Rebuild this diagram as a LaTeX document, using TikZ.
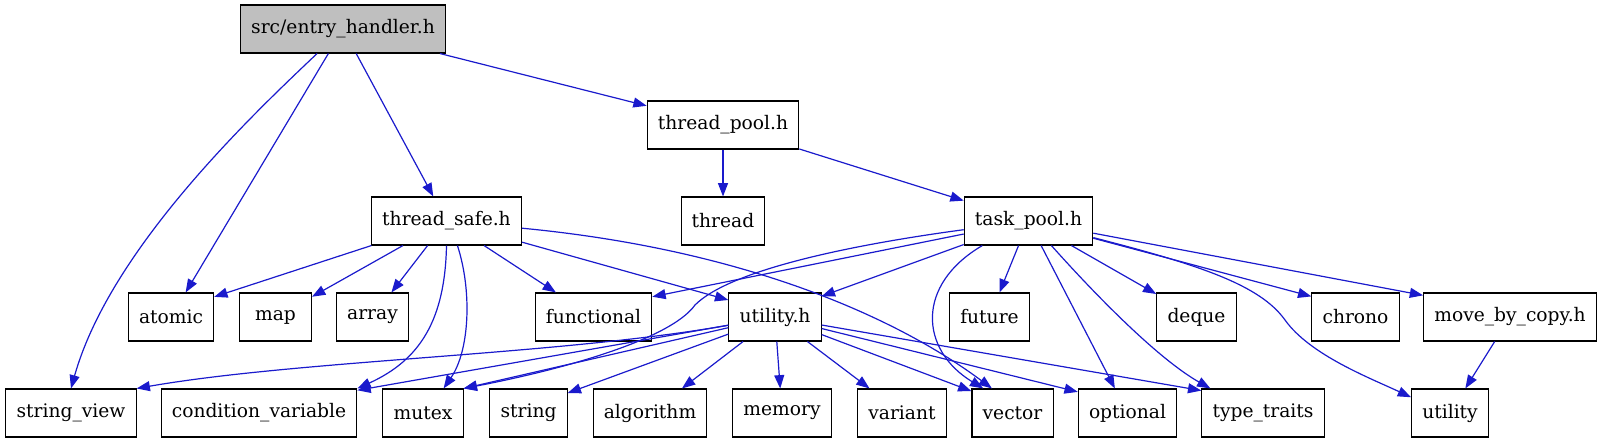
\documentclass[tikz,border=0pt]{standalone}
\usepackage{fontspec}
\setmainfont{DejaVu Serif}
\usetikzlibrary{arrows.meta}
\definecolor{edgeblue}{RGB}{26,26,204}
\definecolor{rootgray}{RGB}{191,191,191}

\begin{document}
\begin{tikzpicture}[x=0.75pt, y=-0.75pt, >={Triangle[length=10pt,width=7.5pt]},
  hdr/.style={draw, line width=0.8pt, minimum height=36pt, minimum width=54pt,
    inner xsep=8pt, font=\fontsize{14}{17}\selectfont},
  inc/.style={->, edgeblue, line width=0.9pt}]
  \useasboundingbox (0,0) rectangle (1602,443);
  % headers
  \node[hdr, fill=rootgray] (entry) at (343,29) {src/entry\_handler.h};
  \node[hdr] (threadpool) at (723,125) {thread\_pool.h};
  \node[hdr] (threadsafe) at (446.5,221) {thread\_safe.h};
  \node[hdr] (thread) at (723,221) {thread};
  \node[hdr] (taskpool) at (1028.5,221) {task\_pool.h};
  \node[hdr] (atomic) at (171,317) {atomic};
  \node[hdr] (map) at (275.5,317) {map};
  \node[hdr] (array) at (372.5,317) {array};
  \node[hdr] (functional) at (593.5,317) {functional};
  \node[hdr] (utilh) at (775,317) {utility.h};
  \node[hdr] (future) at (989.5,317) {future};
  \node[hdr] (deque) at (1196.5,317) {deque};
  \node[hdr] (chrono) at (1355.5,317) {chrono};
  \node[hdr] (movecopy) at (1510,317) {move\_by\_copy.h};
  \node[hdr] (strview) at (71,413) {string\_view};
  \node[hdr] (condvar) at (259,413) {condition\_variable};
  \node[hdr] (mutex) at (423,413) {mutex};
  \node[hdr] (string) at (528.5,413) {string};
  \node[hdr] (algorithm) at (650,413) {algorithm};
  \node[hdr] (memory) at (782,413) {memory};
  \node[hdr] (variant) at (902,413) {variant};
  \node[hdr] (vector) at (1012.5,413) {vector};
  \node[hdr] (optional) at (1127.5,413) {optional};
  \node[hdr] (typetraits) at (1263,413) {type\_traits};
  \node[hdr] (utility) at (1450,413) {utility};

  % includes of src/entry_handler.h
  \draw[inc] (entry) .. controls (250,117) and (110,250) .. (strview.north);
  \draw[inc] (entry) -- (atomic);
  \draw[inc] (entry) -- (threadsafe);
  \draw[inc] (entry) -- (threadpool);
  \draw[inc] (threadpool) -- (thread);
  \draw[inc] (threadpool) -- (taskpool);

  % thread_safe.h
  \draw[inc] (threadsafe) -- (atomic.25);
  \draw[inc] (threadsafe) -- (map.29);
  \draw[inc] (threadsafe) -- (array);
  \draw[inc] (threadsafe.south) .. controls (445,320) and (420,360) .. (condvar.north east);
  \draw[inc] (threadsafe.294) .. controls (472,290) and (470,350) .. (mutex.50);
  \draw[inc] (threadsafe) -- (functional);
  \draw[inc] (threadsafe) -- (utilh.160);
  \draw[inc] (threadsafe) .. controls (750,250) and (900,320) .. (vector.130);

  % task_pool.h
  \draw[inc] (taskpool) -- (functional.19);
  \draw[inc] (taskpool) .. controls (850,245) and (730,270) .. (695,305)
    .. controls (670,340) and (560,370) .. (mutex.north east);
  \draw[inc] (taskpool) -- (utilh.24);
  \draw[inc] (taskpool.208) .. controls (915,285) and (920,350) .. (vector.140);
  \draw[inc] (taskpool) -- (future);
  \draw[inc] (taskpool) -- (optional);
  \draw[inc] (taskpool.313) .. controls (1100,300) and (1160,360) .. (typetraits.155);
  \draw[inc] (taskpool) -- (deque);
  \draw[inc] (taskpool) .. controls (1200,265) and (1260,285) .. (1285,320)
    .. controls (1310,355) and (1370,378) .. (utility.158);
  \draw[inc] (taskpool) -- (chrono.155);
  \draw[inc] (taskpool) -- (movecopy.166);

  % utility.h
  \draw[inc] (utilh) .. controls (560,355) and (300,360) .. (strview.north east);
  \draw[inc] (utilh) -- (condvar.13);
  \draw[inc] (utilh) -- (mutex.north east);
  \draw[inc] (utilh) -- (string.27);
  \draw[inc] (utilh) -- (algorithm);
  \draw[inc] (utilh) -- (memory);
  \draw[inc] (utilh) -- (variant);
  \draw[inc] (utilh) -- (vector.152);
  \draw[inc] (utilh) -- (optional.157);
  \draw[inc] (utilh) -- (typetraits.160);

  \draw[inc] (movecopy) -- (utility);
\end{tikzpicture}
\end{document}
